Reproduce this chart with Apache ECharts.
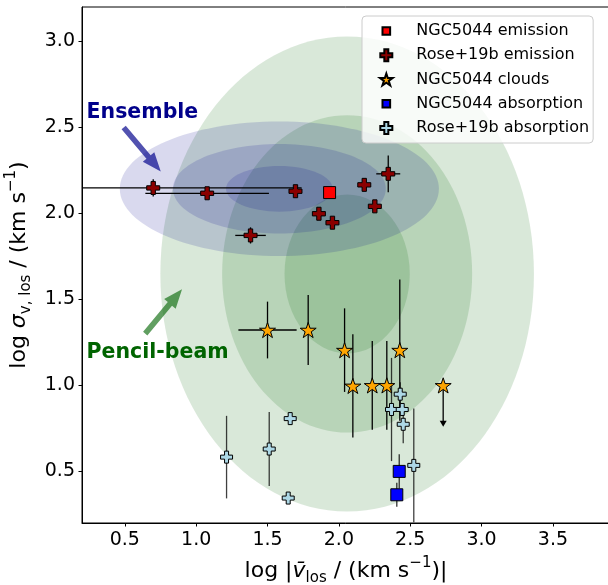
<!DOCTYPE html>
<html><head><meta charset="utf-8">
<script src="https://cdn.jsdelivr.net/npm/echarts@6/dist/echarts.min.js"></script>
<style>html,body{margin:0;padding:0;background:#fff}#c{width:608px;height:585px}</style>
</head><body><div id="c"></div>
<script>
const xTicks = [0.5, 1.0, 1.5, 2.0, 2.5, 3.0, 3.5];
const yTicks = [0.5, 1.0, 1.5, 2.0, 2.5, 3.0];

// NGC5044 emission
const ngcEmisX = [1.935];
const ngcEmisY = [2.121];

// Rose+19b emission
const roseEmisX    = [0.699, 1.077, 1.696, 1.381, 1.860, 1.955, 2.178, 2.252, 2.346];
const roseEmisY    = [2.148, 2.117, 2.129, 1.872, 1.998, 1.946, 2.166, 2.041, 2.230];
const roseEmisXerr = [1.04, 0.433, 0.04, 0.107, 0, 0, 0, 0, 0.084];
const roseEmisYerr = [0.05, 0.02, 0.02, 0.047, 0, 0, 0, 0, 0.107];

// NGC5044 clouds
const cloudX    = [1.500, 1.785, 2.040, 2.098, 2.234, 2.336, 2.427, 2.731];
const cloudY    = [1.322, 1.322, 1.205, 0.997, 1.000, 1.000, 1.205, 1.000];
const cloudXerr = [0.204, 0, 0, 0, 0, 0, 0, 0];
const cloudYerr = [0.165, 0.204, 0.243, 0.30, 0.258, 0.258, 0.41, 0];
const cloudUpperLimit = [0, 0, 0, 0, 0, 0, 0, 1];
const cloudLimitLength = 0.24;

// NGC5044 absorption
const ngcAbsX    = [2.423, 2.406];
const ngcAbsY    = [0.500, 0.364];
const ngcAbsYerr = [0.10, 0.07];

// Rose+19b absorption
const roseAbsX    = [1.213, 1.512, 1.659, 1.645, 2.430, 2.369, 2.444, 2.451, 2.525];
const roseAbsY    = [0.583, 0.630, 0.807, 0.345, 0.949, 0.860, 0.860, 0.774, 0.535];
const roseAbsYerr = [0.24, 0.215, 0.035, 0, 0.07, 0.30, 0, 0.11, 0.33];

// Confidence ellipses (1, 2, 3 sigma)
const pencilCenter = [2.058, 1.648];
const pencilRx = [0.439, 0.876, 1.309];
const pencilRy = [0.462, 0.922, 1.381];
const ensembleCenter = [1.583, 2.143];
const ensembleRx = [0.374, 0.746, 1.118];
const ensembleRy = [0.133, 0.260, 0.391];

const FONT = '"DejaVu Sans", sans-serif';
const plusPath = 'path://M-1,-3L1,-3L1,-1L3,-1L3,1L1,1L1,3L-1,3L-1,1L-3,1L-3,-1L-1,-1Z';
const starPath = 'path://M0,-1000L-224.5,-309L-951.1,-309L-363.3,118L-587.8,809L0,382L587.8,809L363.3,118L951.1,-309L224.5,-309Z';
const smallSquare = 'path://M-11,-11M11,11M-7,-7L7,-7L7,7L-7,7Z';

const zip = (xs, ys) => xs.map((x, i) => [x, ys[i]]);

function ellipseSeries(name, center, rxs, rys, fill) {
  return {
    type: 'custom', name: name, z: 1, silent: true,
    data: rxs.map((rx, i) => [center[0], center[1], rx, rys[i]]),
    renderItem: function (params, api) {
      const c = api.coord([api.value(0), api.value(1)]);
      const s = api.size([api.value(2), api.value(3)], [api.value(0), api.value(1)]);
      return { type: 'ellipse', shape: { cx: c[0], cy: c[1], rx: s[0], ry: s[1] }, style: { fill: fill } };
    }
  };
}

function errSeries(name, xs, ys, xerr, yerr, stroke, limits, limitLen) {
  return {
    type: 'custom', name: name, z: 2, silent: true,
    data: xs.map((x, i) => [x, ys[i], xerr ? xerr[i] : 0, yerr ? yerr[i] : 0, limits ? limits[i] : 0]),
    renderItem: function (params, api) {
      const cs = params.coordSys;
      const cx = v => Math.max(cs.x, Math.min(cs.x + cs.width, v));
      const cy = v => Math.max(cs.y, Math.min(cs.y + cs.height, v));
      const x = api.value(0), y = api.value(1), xe = api.value(2), ye = api.value(3), lim = api.value(4);
      const ch = [];
      const st = { stroke: stroke, lineWidth: 1.3 };
      if (xe > 0) {
        const a = api.coord([x - xe, y]), b = api.coord([x + xe, y]);
        ch.push({ type: 'line', shape: { x1: cx(a[0]), y1: a[1], x2: cx(b[0]), y2: b[1] }, style: st });
      }
      if (ye > 0) {
        const a = api.coord([x, y - ye]), b = api.coord([x, y + ye]);
        ch.push({ type: 'line', shape: { x1: a[0], y1: cy(a[1]), x2: b[0], y2: cy(b[1]) }, style: st });
      }
      if (lim) {
        const a = api.coord([x, y]), b = api.coord([x, y - limitLen]);
        ch.push({ type: 'line', shape: { x1: a[0], y1: a[1], x2: b[0], y2: b[1] - 5 }, style: st });
        ch.push({ type: 'polygon', shape: { points: [[b[0] - 3.5, b[1] - 6], [b[0] + 3.5, b[1] - 6], [b[0], b[1]]] }, style: { fill: '#000' } });
      }
      return { type: 'group', children: ch };
    }
  };
}

function arrowPoly(p0, p1, shaftW, headW, headL) {
  const dx = p1[0] - p0[0], dy = p1[1] - p0[1];
  const len = Math.sqrt(dx * dx + dy * dy);
  const ux = dx / len, uy = dy / len, nx = -uy, ny = ux;
  const hb = [p1[0] - ux * headL, p1[1] - uy * headL];
  const s = shaftW / 2, h = headW / 2;
  return [
    [p0[0] + nx * s, p0[1] + ny * s], [hb[0] + nx * s, hb[1] + ny * s], [hb[0] + nx * h, hb[1] + ny * h],
    [p1[0], p1[1]],
    [hb[0] - nx * h, hb[1] - ny * h], [hb[0] - nx * s, hb[1] - ny * s], [p0[0] - nx * s, p0[1] - ny * s]
  ];
}

const annotations = {
  type: 'custom', name: 'annotations', z: 6, silent: true,
  data: [[0.5, 2.0]],
  renderItem: function (params, api) {
    const e0 = api.coord([0.492, 2.500]), e1 = api.coord([0.752, 2.243]);
    const p0 = api.coord([0.643, 1.301]), p1 = api.coord([0.901, 1.559]);
    const te = api.coord([0.232, 2.585]), tp = api.coord([0.232, 1.190]);
    return {
      type: 'group', children: [
        { type: 'polygon', shape: { points: arrowPoly(e0, e1, 5.5, 15, 19) }, style: { fill: 'rgba(0,0,139,0.68)' } },
        { type: 'polygon', shape: { points: arrowPoly(p0, p1, 5.5, 15, 19) }, style: { fill: 'rgba(0,100,0,0.62)' } },
        { type: 'text', x: te[0], y: te[1], style: { text: 'Ensemble', fill: '#00008b', font: 'bold 20.5px ' + FONT, textAlign: 'left', textVerticalAlign: 'middle', align: 'left', verticalAlign: 'middle' } },
        { type: 'text', x: tp[0], y: tp[1], style: { text: 'Pencil-beam', fill: '#006400', font: 'bold 20.5px ' + FONT, textAlign: 'left', textVerticalAlign: 'middle', align: 'left', verticalAlign: 'middle' } }
      ]
    };
  }
};

const richName = {
  a: { fontSize: 22, fontFamily: FONT, color: '#000', lineHeight: 30 },
  i: { fontSize: 22, fontFamily: FONT, fontStyle: 'italic', color: '#000', lineHeight: 30 },
  s: { fontSize: 15, fontFamily: FONT, color: '#000', lineHeight: 18, verticalAlign: 'bottom' },
  p: { fontSize: 15, fontFamily: FONT, color: '#000', lineHeight: 15, verticalAlign: 'top' }
};

const chart = echarts.init(document.getElementById('c'), null, { renderer: 'canvas' });
chart.setOption({
  animation: false,
  backgroundColor: '#fff',
  grid: { left: 82, top: 7, bottom: 62, right: -2, containLabel: false, outerBoundsMode: 'none',
          show: true, borderColor: '#000', borderWidth: 1, backgroundColor: 'transparent' },
  xAxis: {
    type: 'value', min: 0.2, max: 3.9,
    splitLine: { show: false },
    axisLine: { lineStyle: { color: '#000', width: 1 } },
    axisTick: { show: true, length: 3.5, customValues: xTicks, lineStyle: { color: '#000' } },
    axisLabel: { customValues: xTicks, formatter: v => v.toFixed(1), fontSize: 19, fontFamily: FONT, color: '#000', margin: 8 },
    name: '{a|log |}{i|v\u0304}{s|los}{a| / (km s}{p|\u22121}{a|)|}',
    nameLocation: 'middle', nameGap: 33,
    nameTextStyle: { rich: richName }
  },
  yAxis: {
    type: 'value', min: 0.2, max: 3.2,
    splitLine: { show: false },
    axisLine: { lineStyle: { color: '#000', width: 1 } },
    axisTick: { show: true, length: 3.5, customValues: yTicks, lineStyle: { color: '#000' } },
    axisLabel: { customValues: yTicks, formatter: v => v.toFixed(1), fontSize: 19, fontFamily: FONT, color: '#000', margin: 7 },
    name: '{a|log }{i|\u03c3}{s|v, los}{a| / (km s}{p|\u22121}{a|)}',
    nameLocation: 'middle', nameGap: 45, nameRotate: 90,
    nameTextStyle: { rich: richName }
  },
  legend: {
    orient: 'vertical', left: 362, top: 16,
    padding: [6, 4, 6, 17],
    itemWidth: 50, itemHeight: 12, itemGap: 6.25,
    backgroundColor: 'rgba(255,255,255,0.8)', borderColor: '#cccccc', borderWidth: 1, borderRadius: 4,
    textStyle: { fontSize: 16, fontFamily: FONT, color: '#000', lineHeight: 18 },
    data: [
      { name: 'NGC5044 emission', icon: smallSquare },
      { name: 'Rose+19b emission', icon: plusPath },
      { name: 'NGC5044 clouds', icon: starPath },
      { name: 'NGC5044 absorption', icon: smallSquare },
      { name: 'Rose+19b absorption', icon: plusPath }
    ]
  },
  series: [
    ellipseSeries('pencil', pencilCenter, pencilRx, pencilRy, 'rgba(0,100,0,0.15)'),
    ellipseSeries('ensemble', ensembleCenter, ensembleRx, ensembleRy, 'rgba(0,0,139,0.15)'),
    errSeries('err1', roseEmisX, roseEmisY, roseEmisXerr, roseEmisYerr, '#000'),
    errSeries('err2', cloudX, cloudY, cloudXerr, cloudYerr, '#000', cloudUpperLimit, cloudLimitLength),
    errSeries('err3', ngcAbsX, ngcAbsY, null, ngcAbsYerr, 'rgba(0,0,0,0.8)'),
    errSeries('err4', roseAbsX, roseAbsY, null, roseAbsYerr, 'rgba(0,0,0,0.75)'),
    { type: 'scatter', name: 'NGC5044 emission', z: 3, data: zip(ngcEmisX, ngcEmisY), symbol: 'rect', symbolSize: 12,
      itemStyle: { color: '#ff0000', borderColor: '#000', borderWidth: 1, opacity: 1 } },
    { type: 'scatter', name: 'Rose+19b emission', z: 3, data: zip(roseEmisX, roseEmisY), symbol: plusPath, symbolSize: 13,
      itemStyle: { color: '#8b0000', borderColor: '#000', borderWidth: 1, opacity: 1 } },
    { type: 'scatter', name: 'NGC5044 clouds', z: 3, data: zip(cloudX, cloudY), symbol: starPath, symbolSize: 16, symbolKeepAspect: true,
      itemStyle: { color: '#ffa500', borderColor: '#000', borderWidth: 1, opacity: 1 } },
    { type: 'scatter', name: 'NGC5044 absorption', z: 3, data: zip(ngcAbsX, ngcAbsY), symbol: 'rect', symbolSize: 12,
      itemStyle: { color: '#0000ff', borderColor: '#000', borderWidth: 1, opacity: 1 } },
    { type: 'scatter', name: 'Rose+19b absorption', z: 3, data: zip(roseAbsX, roseAbsY), symbol: plusPath, symbolSize: 12,
      itemStyle: { color: '#add8e6', borderColor: '#000', borderWidth: 1, opacity: 1 } },
    annotations
  ]
});
</script>
</body></html>
